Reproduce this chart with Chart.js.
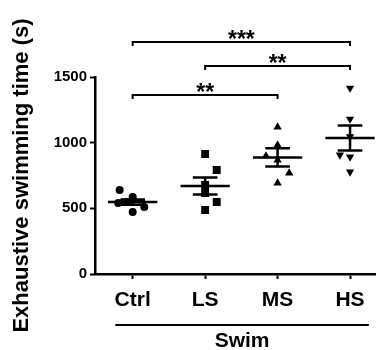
<!DOCTYPE html>
<html>
<head>
<meta charset="utf-8">
<script src="https://cdn.jsdelivr.net/npm/chart.js@4/dist/chart.umd.min.js"></script>
<style>
  html, body { margin: 0; padding: 0; background: #fff; }
  #wrap { width: 381px; height: 350px; }
</style>
</head>
<body>
<div id="wrap"><canvas id="chart"></canvas></div>
<script>
// groups on the x axis
const groups = ['Ctrl', 'LS', 'MS', 'HS'];

// individual animals, exhaustive swimming time (s)
const ctrlValues = [640, 586, 548, 510, 472, 541];
const lsValues = [914, 792, 678, 617, 548, 487];
const msValues = [1119, 982, 899, 868, 769, 693];
const hsValues = [1416, 1180, 906, 891, 777, 1046];

// horizontal scatter of the dots around each group centre
const ctrlJitter = [-0.18, 0, -0.08, 0.16, 0, -0.2];
const lsJitter = [0, 0.16, 0, 0, 0.16, 0];
const msJitter = [0, 0, -0.16, 0, 0.16, 0];
const hsJitter = [0, 0, -0.14, 0, 0, 0];

// mean and SEM per group
const means = [548, 670, 888, 1036];
const sems = [20, 65, 69, 95];

// y axis ticks
const yTicks = [0, 500, 1000, 1500];

// significance brackets: from group, to group, height (s), label
const brackets = [
    { from: 0, to: 3, y: 1767, label: '***' },
    { from: 1, to: 3, y: 1584, label: '**' },
    { from: 0, to: 2, y: 1363, label: '**' }
];

const FONT = "'Liberation Sans', Arial, sans-serif";

const toPoints = (values, jitter, g) => values.map((v, i) => ({ x: g + jitter[i], y: v }));

// mean line, SEM bar and brackets drawn on top of the scatter
const annotations = {
    id: 'annotations',
    afterDatasetsDraw(chart) {
        const { ctx, scales: { x, y } } = chart;
        ctx.save();
        ctx.strokeStyle = '#000';
        ctx.lineWidth = 2.5;
        ctx.lineCap = 'butt';

        means.forEach((m, g) => {
            const cx = x.getPixelForValue(g);
            const my = y.getPixelForValue(m);
            const top = y.getPixelForValue(m + sems[g]);
            const bot = y.getPixelForValue(m - sems[g]);
            const halfMean = x.getPixelForValue(g + 0.34) - cx;
            const halfCap = x.getPixelForValue(g + 0.17) - cx;
            ctx.beginPath();
            ctx.moveTo(cx - halfMean, my); ctx.lineTo(cx + halfMean, my);
            ctx.moveTo(cx, top); ctx.lineTo(cx, bot);
            ctx.moveTo(cx - halfCap, top); ctx.lineTo(cx + halfCap, top);
            ctx.moveTo(cx - halfCap, bot); ctx.lineTo(cx + halfCap, bot);
            ctx.stroke();
        });

        // brackets
        ctx.lineWidth = 2;
        ctx.fillStyle = '#000';
        ctx.font = 'bold 23px ' + FONT;
        ctx.textAlign = 'center';
        ctx.textBaseline = 'alphabetic';
        brackets.forEach(b => {
            const x1 = x.getPixelForValue(b.from);
            const x2 = x.getPixelForValue(b.to);
            const by = y.getPixelForValue(b.y);
            ctx.beginPath();
            ctx.moveTo(x1, by + 4);
            ctx.lineTo(x1, by);
            ctx.lineTo(x2, by);
            ctx.lineTo(x2, by + 4);
            ctx.stroke();
            ctx.fillText(b.label, (x1 + x2) / 2, by + 5);
        });

        // "Swim" group line under the x labels
        const lx1 = x.getPixelForValue(-0.24);
        const lx2 = x.getPixelForValue(3.26);
        ctx.beginPath();
        ctx.moveTo(lx1, 325);
        ctx.lineTo(lx2, 325);
        ctx.stroke();
        ctx.font = 'bold 21px ' + FONT;
        ctx.textBaseline = 'middle';
        ctx.fillText('Swim', (lx1 + lx2) / 2, 341);
        ctx.restore();
    }
};

const dotStyle = (style, radius, rotation) => ({
    pointStyle: style,
    pointRadius: radius,
    pointHoverRadius: radius,
    pointRotation: rotation,
    backgroundColor: '#000',
    borderColor: '#000',
    borderWidth: 0,
    showLine: false
});

new Chart(document.getElementById('chart'), {
    type: 'scatter',
    data: {
        datasets: [
            { label: 'Ctrl', data: toPoints(ctrlValues, ctrlJitter, 0), ...dotStyle('circle', 4, 0) },
            { label: 'LS', data: toPoints(lsValues, lsJitter, 1), ...dotStyle('rect', 5.6, 0) },
            { label: 'MS', data: toPoints(msValues, msJitter, 2), ...dotStyle('triangle', 4.8, 0) },
            { label: 'HS', data: toPoints(hsValues, hsJitter, 3), ...dotStyle('triangle', 4.8, 180) }
        ]
    },
    options: {
        responsive: true,
        maintainAspectRatio: false,
        animation: false,
        layout: { padding: { top: 77, right: 0, bottom: 0, left: 0 } },
        plugins: {
            legend: { display: false },
            tooltip: { enabled: false }
        },
        scales: {
            x: {
                type: 'linear',
                min: -0.52,
                max: 3.35,
                afterBuildTicks: axis => { axis.ticks = groups.map((g, i) => ({ value: i })); },
                afterFit: axis => { axis.height = 76; },
                border: { display: true, color: '#000', width: 2.5 },
                grid: { drawOnChartArea: false, tickLength: 5, tickWidth: 2, tickColor: '#000' },
                ticks: {
                    autoSkip: false,
                    maxRotation: 0,
                    padding: 9,
                    color: '#000',
                    font: { family: FONT, size: 21, weight: 'bold' },
                    callback: v => groups[v] ?? ''
                }
            },
            y: {
                min: 0,
                max: 1500,
                afterBuildTicks: axis => { axis.ticks = yTicks.map(v => ({ value: v })); },
                afterFit: axis => { axis.width = 95; },
                border: { display: true, color: '#000', width: 2.5 },
                grid: { drawOnChartArea: false, tickLength: 5, tickWidth: 2, tickColor: '#000' },
                ticks: {
                    padding: 3,
                    color: '#000',
                    font: { family: FONT, size: 15, weight: 'bold' },
                    callback: v => String(v)
                },
                title: {
                    display: true,
                    text: 'Exhaustive swimming time (s)',
                    color: '#000',
                    font: { family: FONT, size: 22, weight: 'bold' },
                    padding: { top: 9, bottom: 0 }
                }
            }
        }
    },
    plugins: [annotations]
});
</script>
</body>
</html>
